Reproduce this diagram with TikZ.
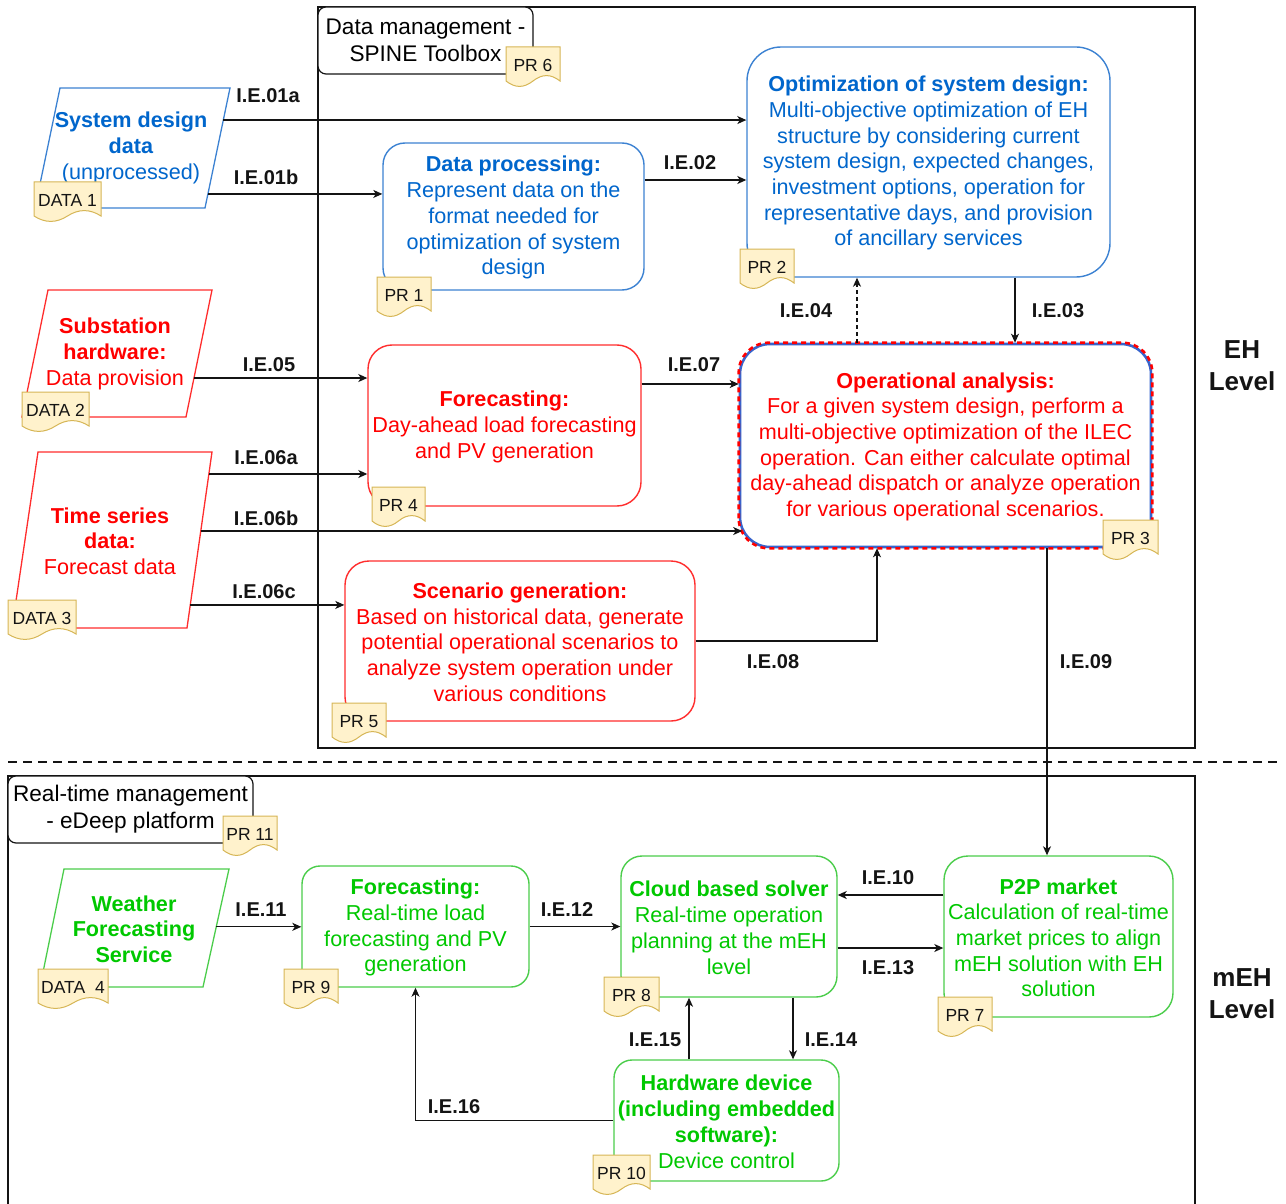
\documentclass[tikz,border=0pt]{standalone}
\usepackage{fontspec}
\setmainfont{Liberation Sans}
\usetikzlibrary{arrows.meta,calc}

\definecolor{bluebd}{RGB}{60,130,210}
\definecolor{bluetx}{RGB}{0,102,204}
\definecolor{redbd}{RGB}{255,45,45}
\definecolor{redtx}{RGB}{255,0,0}
\definecolor{greenbd}{RGB}{75,205,75}
\definecolor{greentx}{RGB}{0,200,0}
\definecolor{dashblue}{RGB}{55,100,205}
\definecolor{tagfill}{HTML}{FFF2CC}
\definecolor{tagdraw}{HTML}{D6B656}
\definecolor{ink}{RGB}{20,20,20}

\newcommand{\bodyfont}{\fontsize{21.6}{25.7}\selectfont}
\newcommand{\titlefont}{\fontsize{22.6}{27}\selectfont}
\newcommand{\lblfont}{\fontsize{20}{22}\selectfont\bfseries}
\newcommand{\tagfont}{\fontsize{17.5}{20}\selectfont}
\newcommand{\lvlfont}{\fontsize{26}{32}\selectfont\bfseries}
% taller first line: lowers a centred text block slightly
\newcommand{\pushdown}{\rule{0pt}{18.2pt}}

% document-shaped tag: name, left x, top y, width, label
\newcommand{\doctag}[5]{%
  \draw[tagshape] (#2,#3) -- ({#2+#4},#3) -- ({#2+#4},{#3+34})
    .. controls ({#2+0.8333*#4},{#3+26.8}) and ({#2+0.6667*#4},{#3+26.8}) .. ({#2+0.5*#4},{#3+34})
    .. controls ({#2+0.3333*#4},{#3+41.2}) and ({#2+0.1667*#4},{#3+41.2}) .. (#2,{#3+34}) -- cycle;
  \node[tagtext] (#1) at ({#2+0.5*#4},{#3+18.5}) {#5};
}

\begin{document}
\begin{tikzpicture}[x=1pt,y=-1pt,
  box/.style={rectangle, align=center, inner sep=0pt, fill=white, line width=1.4pt, font=\bodyfont},
  bluebox/.style={box, draw=bluebd, text=bluetx},
  redbox/.style={box, draw=redbd, text=redtx},
  greenbox/.style={box, draw=greenbd, text=greentx},
  datashape/.style={fill=white, line width=1.3pt},
  datatext/.style={align=center, inner sep=0pt, font=\bodyfont},
  container/.style={draw=ink, line width=1.2pt},
  titlebox/.style={rectangle, draw=ink, fill=white, line width=1.2pt, rounded corners=8pt, align=center, inner sep=0pt, font=\titlefont, text=black},
  tagshape/.style={fill=tagfill, draw=tagdraw, line width=1pt},
  tagtext/.style={inner sep=0pt, font=\tagfont, text=ink},
  lbl/.style={inner sep=0pt, font=\lblfont, text=ink},
  lvl/.style={align=center, inner sep=0pt, font=\lvlfont, text=ink},
  arr/.style={draw=ink, line width=1.2pt, -{Stealth[length=9pt,width=8pt,inset=2.5pt]}},
  sep/.style={draw=ink, line width=2pt, dash pattern=on 9pt off 6pt}
]
\useasboundingbox (0,0) rectangle (1286,1204);

% ---------- level frames ----------
\node[container, rectangle, minimum width=877pt, minimum height=741pt, inner sep=0pt] (ehframe) at (756.5,377.5) {};
\draw[container] (8,1215) -- (8,776) -- (1195,776) -- (1195,1215);
\draw[sep] (8,762) -- (1282,762);

\node[titlebox, minimum width=215pt, minimum height=67pt] (dmtitle) at (425.5,40.5) {Data management -\\SPINE Toolbox};
\node[titlebox, minimum width=245pt, minimum height=67pt] (rttitle) at (130.5,809.5) {Real-time management\\- eDeep platform};

\node[lvl] (ehlvl) at (1242,366) {EH\\Level};
\node[lvl] (mehlvl) at (1242,994) {mEH\\Level};

% ---------- data inputs ----------
\coordinate (d1tl) at (60,88);  \coordinate (d1tr) at (230,88);
\coordinate (d1br) at (205,208); \coordinate (d1bl) at (35,208);
\draw[datashape, draw=bluebd] (d1tl) -- (d1tr) -- (d1br) -- (d1bl) -- cycle;
\node[datatext, text=bluetx] (d1) at (131,148) {\textbf{System design}\\\textbf{data}\\(unprocessed)};

\coordinate (d2tl) at (48,290);  \coordinate (d2tr) at (212,290);
\coordinate (d2br) at (186,417); \coordinate (d2bl) at (22,417);
\draw[datashape, draw=redbd] (d2tl) -- (d2tr) -- (d2br) -- (d2bl) -- cycle;
\node[datatext, text=redtx] (d2) at (115,354) {\textbf{Substation}\\\textbf{hardware:}\\Data provision};

\coordinate (d3tl) at (38,452);  \coordinate (d3tr) at (212,452);
\coordinate (d3br) at (187,628); \coordinate (d3bl) at (12,628);
\draw[datashape, draw=redbd] (d3tl) -- (d3tr) -- (d3br) -- (d3bl) -- cycle;
\node[datatext, text=redtx] (d3) at (110,541) {\textbf{Time series}\\\textbf{data:}\\Forecast data};

\coordinate (d4tl) at (64,869);  \coordinate (d4tr) at (229,869);
\coordinate (d4br) at (203,987); \coordinate (d4bl) at (40,987);
\draw[datashape, draw=greenbd] (d4tl) -- (d4tr) -- (d4br) -- (d4bl) -- cycle;
\node[datatext, text=greentx] (d4) at (134,929) {\textbf{Weather}\\\textbf{Forecasting}\\\textbf{Service}};

% ---------- processes ----------
\node[bluebox, minimum width=261pt, minimum height=147pt, rounded corners=22pt] (pr1) at (513.5,216.5)
  {\pushdown\textbf{Data processing:}\\Represent data on the\\format needed for\\optimization of system\\design};
\node[bluebox, minimum width=363pt, minimum height=230pt, rounded corners=34pt] (pr2) at (928.5,162)
  {\pushdown\textbf{Optimization of system design:}\\Multi-objective optimization of EH\\structure by considering current\\system design, expected changes,\\investment options, operation for\\representative days, and provision\\of ancillary services};
\node[box, draw=dashblue, line width=2.6pt, text=redtx, minimum width=411pt, minimum height=203pt, rounded corners=30pt] (pr3) at (945.5,445.5)
  {\pushdown\textbf{Operational analysis:}\\For a given system design, perform a\\multi-objective optimization of the ILEC\\operation. Can either calculate optimal\\day-ahead dispatch or analyze operation\\for various operational scenarios.};
\draw[redtx, line width=2.6pt, dash pattern=on 5pt off 4pt, rounded corners=30pt] (pr3.south west) rectangle (pr3.north east);
\node[redbox, minimum width=273pt, minimum height=161pt, rounded corners=24pt] (pr4) at (504.5,425.5)
  {\pushdown\textbf{Forecasting:}\\Day-ahead load forecasting\\and PV generation};
\node[redbox, minimum width=350pt, minimum height=160pt, rounded corners=24pt] (pr5) at (520,641)
  {\pushdown\textbf{Scenario generation:}\\Based on historical data, generate\\potential operational scenarios to\\analyze system operation under\\various conditions};
\node[greenbox, minimum width=229pt, minimum height=161pt, rounded corners=24pt] (pr7) at (1058.5,936.5)
  {\pushdown\textbf{P2P market}\\Calculation of real-time\\market prices to align\\mEH solution with EH\\solution};
\node[greenbox, minimum width=216pt, minimum height=141pt, rounded corners=21pt] (pr8) at (729,926.5)
  {\pushdown\textbf{Cloud based solver}\\Real-time operation\\planning at the mEH\\level};
\node[greenbox, minimum width=227pt, minimum height=121pt, rounded corners=18pt] (pr9) at (415.5,926.5)
  {\pushdown\textbf{Forecasting:}\\Real-time load\\forecasting and PV\\generation};
\node[greenbox, minimum width=225pt, minimum height=121pt, rounded corners=18pt] (pr10) at (726.5,1120.5)
  {\pushdown\textbf{Hardware device}\\\textbf{(including embedded}\\\textbf{software):}\\Device control};

% ---------- information exchanges ----------
\coordinate (s01a) at ($(d1tr)!0.267!(d1br)$);
\coordinate (s01b) at ($(d1tr)!0.883!(d1br)$);
\coordinate (s05)  at ($(d2tr)!0.693!(d2br)$);
\coordinate (s06a) at ($(d3tr)!0.125!(d3br)$);
\coordinate (s06b) at ($(d3tr)!0.449!(d3br)$);
\coordinate (s06c) at ($(d3tr)!0.869!(d3br)$);
\coordinate (s11)  at ($(d4tr)!0.49!(d4br)$);
\coordinate (x03) at (1015,0);
\coordinate (x04) at (857,0);
\coordinate (x08) at (877,0);
\coordinate (x09) at (1047,0);
\coordinate (y07) at (0,384);
\coordinate (y02) at (0,180);
\coordinate (y10) at (0,895);
\coordinate (y13) at (0,948);
\coordinate (x14) at (793,0);
\coordinate (x15) at (689,0);

\draw[arr] (s01a) -- (s01a -| pr2.west);
\draw[arr] (s01b) -- (s01b -| pr1.west);
\draw[arr] (pr1.east |- y02) -- (pr2.west |- y02);
\draw[arr] (pr2.south -| x03) -- (pr3.north -| x03);
\draw[arr, dash pattern=on 4pt off 3pt] (pr3.north -| x04) -- (pr2.south -| x04);
\draw[arr] (s05) -- (s05 -| pr4.west);
\draw[arr] (s06a) -- (s06a -| pr4.west);
\draw[arr] (s06b) -- ([xshift=3.5pt]s06b -| pr3.west);
\draw[arr] (s06c) -- (s06c -| pr5.west);
\draw[arr] (pr4.east |- y07) -- (pr3.west |- y07);
\draw[arr] (pr5.east) -| (pr3.south -| x08);
\draw[arr] (pr3.south -| x09) -- (pr7.north -| x09);
\draw[arr] (pr7.west |- y10) -- (pr8.east |- y10);
\draw[arr] (s11) -- (s11 -| pr9.west);
\draw[arr] (pr9.east) -- (pr9.east -| pr8.west);
\draw[arr] (pr8.east |- y13) -- (pr7.west |- y13);
\draw[arr] (pr8.south -| x14) -- (pr10.north -| x14);
\draw[arr] (pr10.north -| x15) -- (pr8.south -| x15);
\draw[arr] (pr10.west) -| (pr9.south);

\node[lbl] (l01a) at (268,96) {I.E.01a};
\node[lbl] (l01b) at (266,177) {I.E.01b};
\node[lbl] (l02) at (690,163) {I.E.02};
\node[lbl] (l03) at (1058,311) {I.E.03};
\node[lbl] (l04) at (806,311) {I.E.04};
\node[lbl] (l05) at (269,365) {I.E.05};
\node[lbl] (l06a) at (266,458) {I.E.06a};
\node[lbl] (l06b) at (266,518) {I.E.06b};
\node[lbl] (l06c) at (264,592) {I.E.06c};
\node[lbl] (l07) at (694,365) {I.E.07};
\node[lbl] (l08) at (773,662) {I.E.08};
\node[lbl] (l09) at (1086,662) {I.E.09};
\node[lbl] (l10) at (888,878) {I.E.10};
\node[lbl] (l11) at (261,910) {I.E.11};
\node[lbl] (l12) at (567,910) {I.E.12};
\node[lbl] (l13) at (888,968) {I.E.13};
\node[lbl] (l14) at (831,1040) {I.E.14};
\node[lbl] (l15) at (655,1040) {I.E.15};
\node[lbl] (l16) at (454,1107) {I.E.16};

% ---------- reference tags ----------
\doctag{t6}{506}{47}{54}{PR 6}
\doctag{td1}{34}{182}{67}{DATA 1}
\doctag{t1}{377}{277}{54}{PR 1}
\doctag{t2}{740}{249}{54}{PR 2}
\doctag{td2}{22}{392}{67}{DATA 2}
\doctag{t4}{372}{487}{53}{PR 4}
\doctag{td3}{8}{600}{68}{DATA 3}
\doctag{t3}{1103}{520}{55}{PR 3}
\doctag{t5}{332}{703}{54}{PR 5}
\doctag{t11}{223}{816}{54}{PR 11}
\doctag{td4}{38}{969}{70}{DATA\ \ 4}
\doctag{t9}{284}{969}{54}{PR 9}
\doctag{t8}{604}{977}{55}{PR 8}
\doctag{t7}{938}{997}{54}{PR 7}
\doctag{t10}{593}{1155}{57}{PR 10}
\end{tikzpicture}
\end{document}
